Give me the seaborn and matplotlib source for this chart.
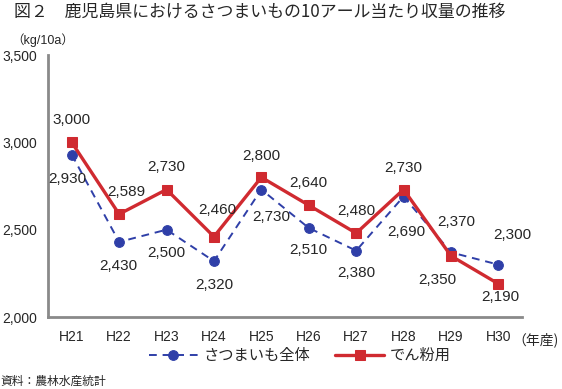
import matplotlib
matplotlib.use("Agg")
import matplotlib.pyplot as plt
import seaborn as sns
import pandas as pd

years = ["H21", "H22", "H23", "H24", "H25", "H26", "H27", "H28", "H29", "H30"]
total = [2930, 2430, 2500, 2320, 2730, 2510, 2380, 2690, 2370, 2300]
starch = [3000, 2589, 2730, 2460, 2800, 2640, 2480, 2730, 2350, 2190]

# label offsets in pixels (dx, dy)
total_off = [(-4, -24), (-1, -24), (0, -23), (0, -24), (10, -27),
             (0, -22), (0, -22), (3, -35), (5, 30), (14, 30)]
starch_off = [(0, 22), (7, 22), (0, 23), (3, 27), (0, 21),
              (0, 22), (0, 22), (0, 22), (-14, -24), (2, -13)]

sns.set_style("white")
plt.rcParams["font.family"] = ["Liberation Sans", "Noto Sans CJK JP"]

blue = "#2f3fa8"
red = "#d02a30"
gray = "#8a8a8a"

df = pd.DataFrame({"year": years, "total": total, "starch": starch})

fig = plt.figure(figsize=(5.62, 3.89), dpi=100)
ax = fig.add_axes([0.0854, 0.185, 0.8436, 0.6736])

sns.lineplot(data=df, x="year", y="total", ax=ax, color=blue, linestyle=(0, (4, 3)),
             linewidth=1.4, marker="o", markersize=7, markeredgecolor=blue,
             label="さつまいも全体")
sns.lineplot(data=df, x="year", y="starch", ax=ax, color=red, linewidth=2.4,
             marker="s", markersize=7, markeredgecolor=red, label="でん粉用")

for i, v in enumerate(total):
    ax.annotate(f"{v:,}", (i, v), xytext=total_off[i], textcoords="offset pixels",
                ha="center", va="center", fontsize=11)
for i, v in enumerate(starch):
    ax.annotate(f"{v:,}", (i, v), xytext=starch_off[i], textcoords="offset pixels",
                ha="center", va="center", fontsize=11)

ax.set_xlim(-0.5, 9.5)
ax.set_ylim(2000, 3500)
ax.set_yticks([2000, 2500, 3000, 3500])
ax.set_yticklabels([f"{t:,}" for t in [2000, 2500, 3000, 3500]])
ax.set_xticks(range(10))
ax.set_xticklabels(years)
ax.set_xticks([i - 0.5 for i in range(11)], minor=True)
ax.tick_params(axis="x", which="major", length=0, pad=9, labelsize=10)
ax.tick_params(axis="x", which="minor", direction="in", length=4, width=1.2, color=gray)
ax.tick_params(axis="y", direction="in", length=4, width=1.2, color=gray, pad=8, labelsize=10)
ax.set_xlabel("")
ax.set_ylabel("")

for s in ["top", "right"]:
    ax.spines[s].set_visible(False)
for s in ["left", "bottom"]:
    ax.spines[s].set_color(gray)
    ax.spines[s].set_linewidth(2)

ax.legend(loc="center", bbox_to_anchor=(0.534, 0.085), bbox_transform=fig.transFigure,
          ncol=2, frameon=False, fontsize=11, handlelength=3.2, columnspacing=1.6,
          handletextpad=0.4)

fig.text(0.025, 0.97, "図２　鹿児島県におけるさつまいもの10アール当たり収量の推移",
         fontsize=12.2, va="center", ha="left",
         family=["Noto Sans CJK JP"], weight="normal")
fig.text(0.02, 0.897, "（kg/10a）", fontsize=9, va="center", ha="left")
fig.text(0.911, 0.127, "（年産)", fontsize=10, va="center", ha="left",
         family=["Noto Sans CJK JP"])
fig.text(0.0, 0.02, "資料：農林水産統計", fontsize=8.5, va="center", ha="left",
         family=["Noto Sans CJK JP"])

fig.savefig("out.png", dpi=100)
